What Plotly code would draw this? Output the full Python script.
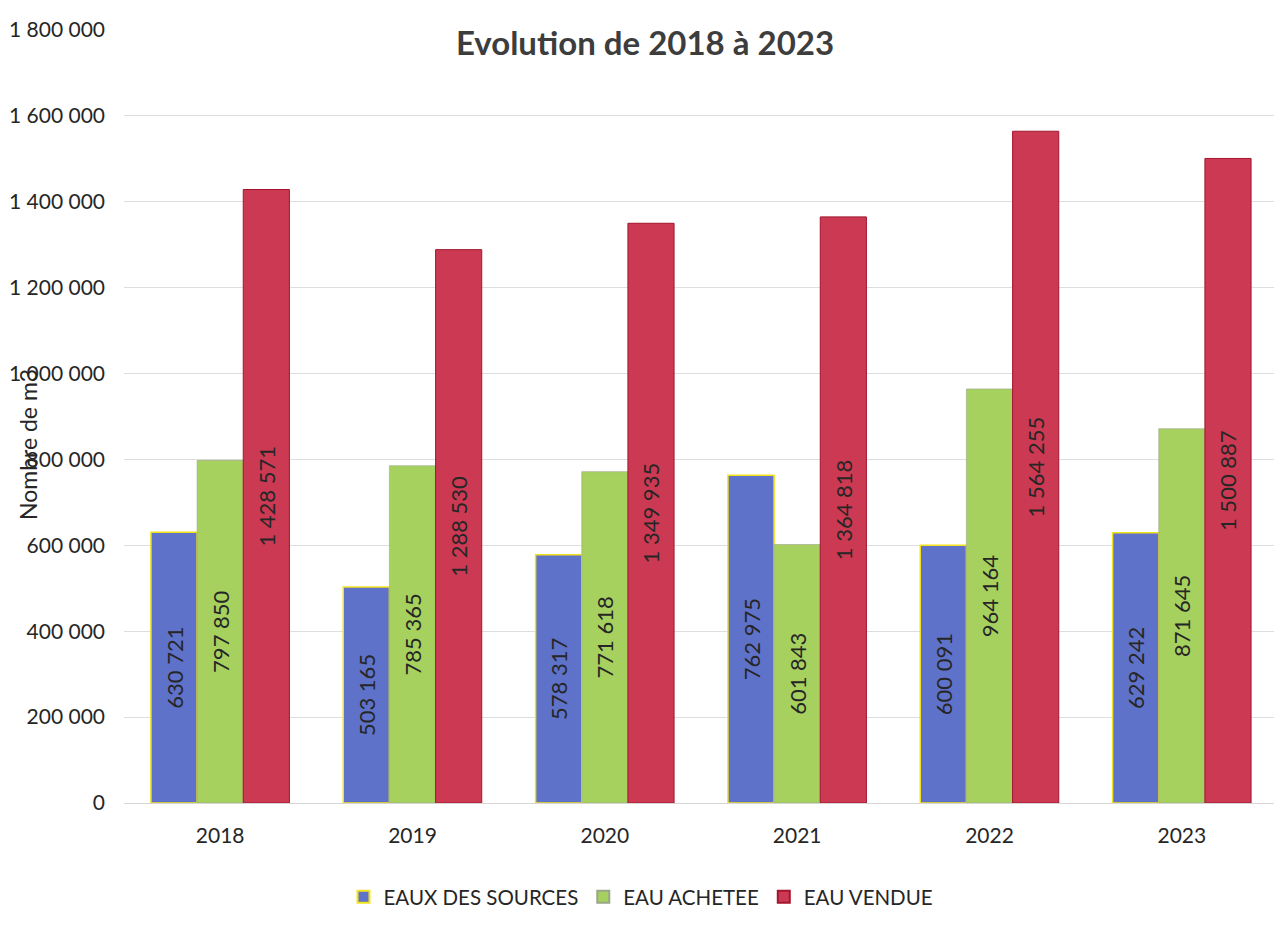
import plotly.graph_objects as go

years = ["2018", "2019", "2020", "2021", "2022", "2023"]
eaux_sources = [630721, 503165, 578317, 762975, 600091, 629242]
eau_achetee = [797850, 785365, 771618, 601843, 964164, 871645]
eau_vendue = [1428571, 1288530, 1349935, 1364818, 1564255, 1500887]
y_ticks = [0, 200000, 400000, 600000, 800000, 1000000, 1200000, 1400000, 1600000, 1800000]

FONT = "Lato, 'Open Sans', sans-serif"
TXT = "#262626"

# page body has an 8px margin: figure sized so that it fits the 1282x930 window
W, H = 1270, 914
L, R, T, B = 116, 0, 22, 119
PW, PH = W - L - R, H - T - B

fig = go.Figure()
series = [
    ("EAUX DES SOURCES", eaux_sources, "#5f72c9", "#f2e21c", 1.5),
    ("EAU ACHETEE", eau_achetee, "#a7d15f", "#9aa58a", 0.6),
    ("EAU VENDUE", eau_vendue, "#cc3953", "#a3162e", 1.0),
]
for name, vals, col, lcol, lw in series:
    fig.add_trace(go.Bar(
        name=name, x=years, y=vals,
        marker=dict(color=col, line=dict(color=lcol, width=lw)),
        texttemplate="%{y:,d}", textposition="inside", insidetextanchor="middle",
        textangle=-90, textfont=dict(family=FONT, size=22, color=TXT),
        hoverinfo="skip",
    ))

fig.update_layout(
    width=W, height=H,
    paper_bgcolor="white", plot_bgcolor="white",
    separators=", ",
    barmode="group", bargap=0.28, bargroupgap=0.0,
    margin=dict(l=L, r=R, t=T, b=B, autoexpand=False),
    font=dict(family=FONT, size=21, color=TXT),
    title=dict(text="<b>Evolution de 2018 à 2023</b>", x=637 / W, xref="container",
               y=1 - 35 / H, yref="container", xanchor="center", yanchor="middle",
               font=dict(family=FONT, size=33, color="#3d3d3d")),
    showlegend=True,
    legend=dict(orientation="h", x=(633 - L) / PW, xref="paper", xanchor="center",
                y=(T + PH - 889) / PH, yanchor="middle",
                font=dict(family=FONT, size=20.5, color=TXT),
                itemsizing="constant", traceorder="normal"),
    xaxis=dict(showgrid=False, showline=False, ticks="",
               tickfont=dict(family=FONT, size=21, color=TXT),
               ticklabelstandoff=18),
    yaxis=dict(range=[0, 1800000], tickvals=y_ticks, tickformat=",d",
               showgrid=True, gridcolor="#dedede", gridwidth=1,
               zeroline=True, zerolinecolor="#d6d6d6", zerolinewidth=1,
               showline=False, ticks="",
               tickfont=dict(family=FONT, size=21, color=TXT),
               ticklabelstandoff=18),
    annotations=[dict(text="Nombre de m3", textangle=-90,
                      x=(20 - L) / PW, y=(T + PH - 437) / PH,
                      xref="paper", yref="paper", showarrow=False,
                      xanchor="center", yanchor="middle",
                      font=dict(family=FONT, size=23, color=TXT))],
)

fig.write_html("out.html")
